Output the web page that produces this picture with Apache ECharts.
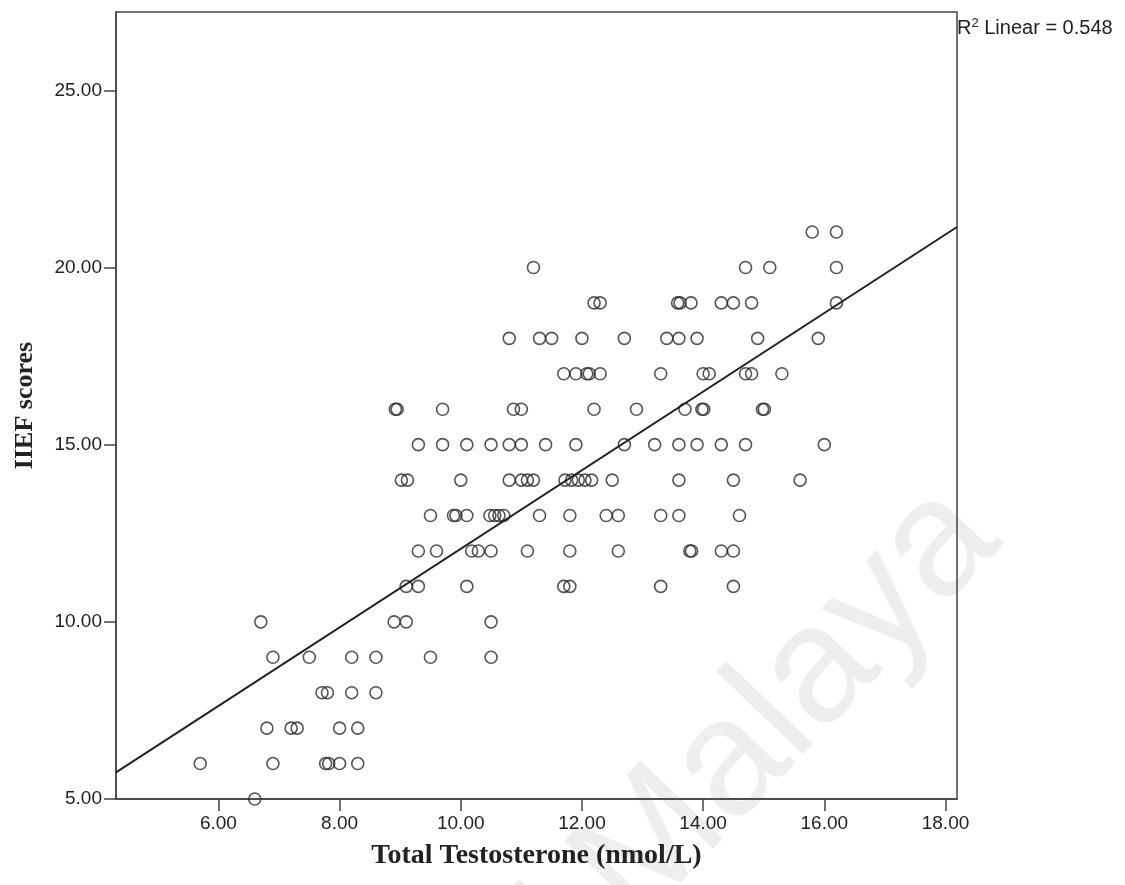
<!DOCTYPE html>
<html>
<head>
<meta charset="utf-8">
<script src="https://cdn.jsdelivr.net/npm/echarts@6/dist/echarts.min.js"></script>
<style>
  html, body { margin: 0; padding: 0; background: #fff; }
  #chart { width: 1125px; height: 885px; }
</style>
</head>
<body>
<div id="chart"></div>
<script>
    let scoreLevels = [21, 20, 19, 18, 17, 16, 15, 14, 13, 12, 11, 10, 9, 8, 7, 6, 5];
    let testosteroneByScore = [
        [15.8, 16.2],
        [11.2, 14.7, 15.1, 16.2],
        [12.2, 12.3, 13.58, 13.62, 13.8, 14.3, 14.5, 14.8, 16.2],
        [10.8, 11.3, 11.5, 12.0, 12.7, 13.4, 13.6, 13.9, 14.9, 15.9],
        [11.7, 11.9, 12.08, 12.12, 12.3, 13.3, 14.0, 14.1, 14.7, 14.8, 15.3],
        [8.92, 8.95, 9.7, 10.87, 11.0, 12.2, 12.9, 13.7, 13.98, 14.01, 14.98, 15.01],
        [9.3, 9.7, 10.1, 10.5, 10.8, 11.0, 11.4, 11.9, 12.7, 13.2, 13.6, 13.9, 14.3, 14.7, 16.0],
        [9.02, 9.12, 10.0, 10.8, 11.0, 11.1, 11.2, 11.72, 11.83, 11.94, 12.05, 12.16, 12.5, 13.6, 14.5, 15.6],
        [9.5, 9.88, 9.92, 10.1, 10.48, 10.56, 10.63, 10.71, 11.3, 11.8, 12.4, 12.6, 13.3, 13.6, 14.6],
        [9.3, 9.6, 10.18, 10.29, 10.5, 11.1, 11.8, 12.6, 13.78, 13.81, 14.3, 14.5],
        [9.1, 9.3, 10.1, 11.7, 11.8, 13.3, 14.5],
        [6.7, 8.9, 9.1, 10.5],
        [6.9, 7.5, 8.2, 8.6, 9.5, 10.5],
        [7.71, 7.8, 8.2, 8.6],
        [6.8, 7.2, 7.3, 8.0, 8.3],
        [5.7, 6.9, 7.77, 7.82, 8.0, 8.3],
        [6.6]
    ];

    let xTicks = [6, 8, 10, 12, 14, 16, 18];
    let yTicks = [5, 10, 15, 20, 25];
    let xRange = [4.31, 18.19];
    let yRange = [5, 27.21];

    // linear fit as drawn
    let fitIntercept = 0.97;
    let fitSlope = 1.109;
    let rSquared = '0.548';

    function init(){
        let points = [];
        scoreLevels.forEach((score, i)=>{
            testosteroneByScore[i].forEach((tt)=>{
                points.push([tt, score]);
            })
        })
        let fitLine = xRange.map((x)=>[x, fitIntercept + fitSlope*x]);

        let axisColor = '#444';
        let textColor = '#222';

        let myChart = echarts.init(document.getElementById('chart'));
        myChart.setOption({
            animation: false,
            grid: {
                left: 116, right: 168, top: 12, bottom: 86,
                show: true,
                borderColor: axisColor,
                borderWidth: 1.5
            },
            xAxis: {
                type: 'value',
                min: xRange[0], max: xRange[1],
                name: 'Total Testosterone (nmol/L)',
                nameLocation: 'middle',
                nameGap: 43,
                nameTextStyle: { fontFamily: 'Liberation Serif', fontWeight: 'bold', fontSize: 28, color: textColor },
                axisLine: { onZero: false, lineStyle: { color: axisColor, width: 1.5 } },
                axisTick: { length: 12, customValues: xTicks, lineStyle: { color: axisColor, width: 1.5 } },
                axisLabel: {
                    customValues: xTicks,
                    margin: 15,
                    fontFamily: 'Liberation Sans', fontSize: 19, color: textColor,
                    formatter: (v)=>v.toFixed(2)
                },
                splitLine: { show: false }
            },
            yAxis: {
                type: 'value',
                min: yRange[0], max: yRange[1],
                name: 'IIEF scores',
                nameLocation: 'middle',
                nameGap: 78,
                nameTextStyle: { fontFamily: 'Liberation Serif', fontWeight: 'bold', fontSize: 26, color: textColor },
                axisLine: { onZero: false, lineStyle: { color: axisColor, width: 1.5 } },
                axisTick: { length: 12, customValues: yTicks, lineStyle: { color: axisColor, width: 1.5 } },
                axisLabel: {
                    customValues: yTicks,
                    margin: 14,
                    fontFamily: 'Liberation Sans', fontSize: 19, color: textColor,
                    formatter: (v)=>v.toFixed(2)
                },
                splitLine: { show: false }
            },
            graphic: [
                {
                    // faint thesis watermark behind the plot
                    type: 'text',
                    x: 418, y: 973,
                    rotation: 0.81,
                    z: -10,
                    style: {
                        text: 'of Malaya',
                        font: '165px "Liberation Sans"',
                        fill: '#eeeeee',
                        align: 'left',
                        verticalAlign: 'alphabetic'
                    }
                },
                {
                    type: 'text',
                    left: 957, top: 17,
                    style: {
                        text: 'R{sup|2} Linear = ' + rSquared,
                        font: '20px "Liberation Sans"',
                        fill: textColor,
                        rich: {
                            sup: { fontSize: 13, fontFamily: 'Liberation Sans', verticalAlign: 'top', padding: [0, 0, 10, 0] }
                        }
                    }
                }
            ],
            series: [
                {
                    type: 'scatter',
                    data: points,
                    symbol: 'circle',
                    symbolSize: 12,
                    itemStyle: { color: 'rgba(0,0,0,0)', borderColor: '#2a2a2a', borderWidth: 1.6 },
                    z: 3
                },
                {
                    type: 'line',
                    data: fitLine,
                    showSymbol: false,
                    lineStyle: { color: '#222', width: 2 },
                    z: 4
                }
            ]
        });
    }

    window.onload = ()=>{
        init();
    }
</script>
</body>
</html>
